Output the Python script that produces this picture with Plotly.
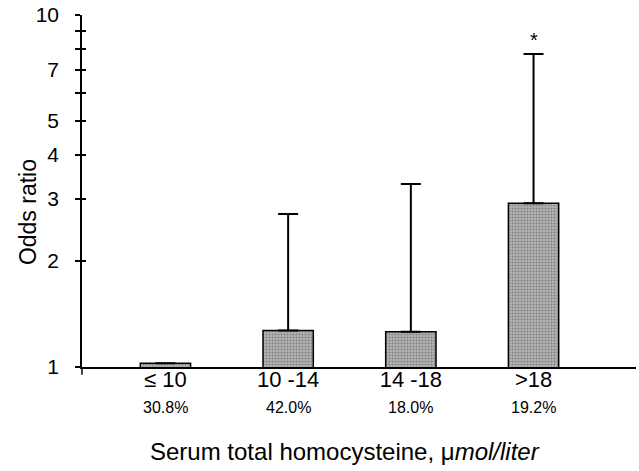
import math
import plotly.graph_objects as go

categories = ["\u2264 10", "10 -14", "14 -18", ">18"]
odds_ratio = [1.025, 1.27, 1.26, 2.92]
upper_ci = [None, 2.72, 3.31, 7.75]
percentages = ["30.8%", "42.0%", "18.0%", "19.2%"]
y_tickvals = [1, 2, 3, 4, 5, 6, 7, 8, 9, 10]
y_ticktext = ["1", "2", "3", "4", "5", "", "7", "", "", "10"]

err_plus = [None if u is None else u - v for u, v in zip(upper_ci, odds_ratio)]

FONT = "Liberation Sans, Arial, sans-serif"

fig = go.Figure()
fig.add_trace(go.Bar(
    x=categories, y=odds_ratio, width=0.41,
    marker=dict(color="#b4b4b4", line=dict(color="black", width=1.5),
                pattern=dict(shape=".", fgcolor="#505050", size=3, solidity=0.4)),
    error_y=dict(type="data", symmetric=False, array=err_plus,
                 arrayminus=[0, 0, 0, 0], color="black", thickness=2, width=10),
    showlegend=False, hoverinfo="skip",
))
# dummy trace for the overlay axis carrying the inside half of the ticks
fig.add_trace(go.Scatter(x=[categories[0]], y=[1], yaxis="y2", mode="markers",
                         marker=dict(opacity=0), showlegend=False, hoverinfo="skip"))

ymin, ymax = 0, 1
fig.update_layout(
    width=639, height=471,
    margin=dict(l=82, r=3, t=15, b=104),
    paper_bgcolor="white", plot_bgcolor="white",
    font=dict(family=FONT, color="black"),
    xaxis=dict(type="category", range=[-0.68, 3.835], showline=True, linecolor="black",
               linewidth=1.5, ticks="", showgrid=False, zeroline=False,
               tickfont=dict(size=22, family=FONT), ticklabelstandoff=-8),
    yaxis=dict(type="log", range=[ymin, ymax], showline=True, linecolor="black",
               linewidth=1.5, ticks="outside", ticklen=5, tickwidth=1.5, tickcolor="black",
               tickvals=y_tickvals, ticktext=y_ticktext, showgrid=False, zeroline=False,
               tickfont=dict(size=21, family=FONT), ticklabelstandoff=12),
    yaxis2=dict(type="log", range=[ymin, ymax], overlaying="y", side="left",
                ticks="inside", ticklen=4, tickwidth=1.5, tickcolor="black",
                tickvals=y_tickvals, showticklabels=False, showgrid=False,
                zeroline=False, showline=False),
)

# small extensions of the axes beyond the origin
fig.add_shape(type="line", xref="paper", yref="paper", x0=0, x1=0, y0=0, y1=-0.022,
              line=dict(color="black", width=1.5))
fig.add_shape(type="line", xref="paper", yref="paper", x0=-0.009, x1=0, y0=0, y1=0,
              line=dict(color="black", width=1.5))

for c, p in zip(categories, percentages):
    fig.add_annotation(x=c, y=0, xref="x", yref="paper", yanchor="middle", yshift=-40,
                       text=p, showarrow=False, font=dict(size=16, family=FONT))

fig.add_annotation(x=categories[3], y=math.log10(upper_ci[3]), xref="x", yref="y",
                   yanchor="middle", yshift=14, text="*", showarrow=False,
                   font=dict(size=20, family=FONT))

fig.add_annotation(x=0.475, y=0, xref="paper", yref="paper", yanchor="middle",
                   yshift=-84,
                   text="Serum total homocysteine, \u03bc<i>mol/liter</i>",
                   showarrow=False, font=dict(size=24, family=FONT))

fig.add_annotation(x=0, y=0.44, xref="paper", yref="paper", xshift=-54,
                   xanchor="center", yanchor="middle", text="Odds ratio",
                   textangle=-90, showarrow=False, font=dict(size=23, family=FONT))

fig.write_html("out.html")
